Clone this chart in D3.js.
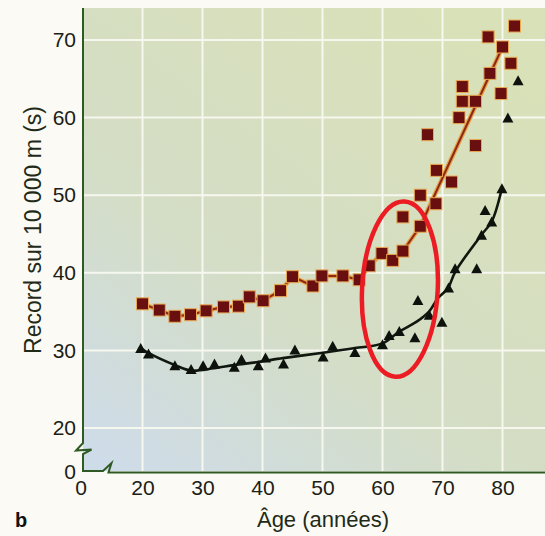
<!DOCTYPE html>
<html>
<head>
<meta charset="utf-8">
<script src="https://cdn.jsdelivr.net/npm/d3@7/dist/d3.min.js"></script>
<style>
  body { margin: 0; background: #fbfaf4; }
  svg { display: block; font-family: "Liberation Sans", Arial, Helvetica, sans-serif; }
</style>
</head>
<body>
<svg id="chart" width="545" height="536"></svg>
<script>
// Record sur 10 000 m, squares (upper series)
const squareAges = [20.0, 22.8, 25.4, 28.0, 30.6, 33.5, 36.0, 37.8, 40.1, 43.0, 45.0, 48.4, 49.9,
  53.4, 56.1, 57.8, 59.9, 61.7, 63.4, 63.4, 66.3, 66.3, 67.5, 68.9, 69.0, 71.5, 72.75, 73.3, 73.3,
  75.5, 75.5, 77.9, 77.6, 79.75, 80.0, 81.4, 82.0];
const squareValues = [36.0, 35.2, 34.4, 34.6, 35.1, 35.6, 35.7, 36.9, 36.4, 37.7, 39.5, 38.3, 39.6,
  39.6, 39.1, 40.9, 42.5, 41.6, 42.8, 47.2, 46.0, 50.0, 57.8, 48.9, 53.2, 51.7, 60.0, 62.1, 64.0,
  62.1, 56.4, 65.7, 70.4, 63.1, 69.1, 67.0, 71.8];

// triangles (lower series)
const triangleAges = [19.7, 21.0, 25.4, 28.1, 30.1, 32.0, 35.3, 36.5, 39.3, 40.5, 43.5, 45.4, 50.1,
  51.7, 55.4, 60.0, 61.1, 62.8, 65.4, 65.9, 67.8, 69.9, 71.0, 72.1, 75.7, 76.5, 78.2, 77.1, 79.9,
  80.9, 82.6];
const triangleValues = [30.3, 29.6, 28.1, 27.6, 28.1, 28.3, 27.9, 28.9, 28.1, 29.1, 28.3, 30.1, 29.2,
  30.6, 29.8, 30.8, 32.0, 32.5, 31.7, 36.5, 34.6, 33.7, 38.1, 40.6, 40.6, 44.9, 46.6, 48.1, 50.9,
  60.0, 64.8];

// fitted curves as drawn in the figure
const squareFitAges = [20.0, 22.8, 25.4, 28.0, 30.6, 33.5, 36.0, 37.8, 40.1, 43.0, 45.0, 48.4, 49.9,
  53.4, 56.1, 57.8, 59.9, 61.7, 63.4, 66.3, 80.0];
const squareFitValues = [36.0, 35.2, 34.4, 34.6, 35.1, 35.6, 35.7, 36.9, 36.4, 37.7, 39.5, 38.3, 39.6,
  39.6, 39.1, 40.9, 42.5, 41.6, 42.8, 46.0, 69.1];
const triangleFitAges = [19.7, 20.9, 25.4, 28.1, 31.9, 35.25, 39.25, 43.4, 50.1, 55.4, 60.0, 62.75,
  65.7, 67.75, 69.25, 70.9, 72.1, 76.5, 78.2, 79.9];
const triangleFitValues = [30.3, 29.7, 28.1, 27.4, 27.7, 28.1, 28.5, 29.0, 29.7, 30.3, 30.9, 32.4,
  33.7, 35.0, 36.75, 38.0, 40.1, 44.9, 46.6, 50.9];

const xTicks = [20, 30, 40, 50, 60, 70, 80];
const yTicks = [20, 30, 40, 50, 60, 70];

// red ellipse highlighting the 60-70 years zone (age, record, half-width in years, half-height in s)
const highlight = { age: 62.9, value: 37.9, rAge: 6.3, rValue: 11.3 };

function drawChart() {
  const svg = d3.select("#chart");
  const width = +svg.attr("width");

  const plot = { left: 83, top: 8, bottom: 471 };

  const x = d3.scaleLinear().domain([20, 90]).range([142.5, 562.5]);
  const y = d3.scaleLinear().domain([20, 70]).range([428, 40]);

  // background
  const defs = svg.append("defs");
  const grad = defs.append("linearGradient")
    .attr("id", "bg")
    .attr("x1", 0.8).attr("y1", 0)
    .attr("x2", 0.05).attr("y2", 1);
  grad.append("stop").attr("offset", 0).attr("stop-color", "#d9e1b8");
  grad.append("stop").attr("offset", 0.6).attr("stop-color", "#d4ddc6");
  grad.append("stop").attr("offset", 1).attr("stop-color", "#cedcea");

  svg.append("rect")
    .attr("x", plot.left)
    .attr("y", plot.top)
    .attr("width", width - plot.left)
    .attr("height", plot.bottom - plot.top)
    .attr("fill", "url(#bg)");

  // grid
  const grid = svg.append("g").attr("stroke", "#f6f8f0").attr("stroke-width", 2);
  grid.selectAll(".vgrid")
    .data(xTicks)
    .enter().append("line")
    .attr("x1", d => x(d)).attr("x2", d => x(d))
    .attr("y1", plot.top).attr("y2", plot.bottom);
  grid.selectAll(".hgrid")
    .data(yTicks)
    .enter().append("line")
    .attr("x1", plot.left).attr("x2", width)
    .attr("y1", d => y(d)).attr("y2", d => y(d));

  // axis lines with breaks
  const axisColor = "#2f5a24";
  svg.append("path")
    .attr("d", d3.line()([[plot.left, plot.top], [plot.left, 443], [76, 450.5], [91.5, 449.5],
      [plot.left, 454], [plot.left, plot.bottom], [103, plot.bottom], [111.5, 463], [108.5, 472.5],
      [width, 472.5]]))
    .attr("fill", "none")
    .attr("stroke", axisColor)
    .attr("stroke-width", 2)
    .attr("stroke-linejoin", "miter");

  // tick labels
  const xAxis = svg.append("g")
    .attr("transform", `translate(0, ${plot.bottom})`)
    .call(d3.axisBottom(x).tickValues(xTicks).tickSize(0).tickPadding(9).tickFormat(d3.format("d")));
  const yAxis = svg.append("g")
    .attr("transform", `translate(${plot.left}, 0)`)
    .call(d3.axisLeft(y).tickValues(yTicks).tickSize(0).tickPadding(7).tickFormat(d3.format("d")));

  [xAxis, yAxis].forEach(a => {
    a.select(".domain").remove();
    a.selectAll("text")
      .attr("font-family", "'Liberation Sans', Arial, sans-serif")
      .attr("font-size", 21)
      .attr("fill", "#1b2016");
  });

  // the two "0" at the axis break
  svg.append("text")
    .attr("x", 76).attr("y", 472).attr("dy", "0.32em")
    .attr("text-anchor", "end")
    .attr("font-size", 21).attr("fill", "#1b2016")
    .text("0");
  svg.append("text")
    .attr("x", 81).attr("y", plot.bottom + 9).attr("dy", "0.71em")
    .attr("text-anchor", "middle")
    .attr("font-size", 21).attr("fill", "#1b2016")
    .text("0");

  // fitted lines
  const line = d3.line().x(d => x(d[0])).y(d => y(d[1]));

  const squareFit = d3.zip(squareFitAges, squareFitValues);
  svg.append("path")
    .attr("d", line(squareFit))
    .attr("fill", "none")
    .attr("stroke", "#e8a24c")
    .attr("stroke-width", 4.5)
    .attr("stroke-linejoin", "round");
  svg.append("path")
    .attr("d", line(squareFit))
    .attr("fill", "none")
    .attr("stroke", "#8c2a14")
    .attr("stroke-width", 2)
    .attr("stroke-linejoin", "round");

  const triangleFit = d3.zip(triangleFitAges, triangleFitValues);
  svg.append("path")
    .attr("d", line.curve(d3.curveCatmullRom.alpha(0.5))(triangleFit))
    .attr("fill", "none")
    .attr("stroke", "#10170e")
    .attr("stroke-width", 2.6);

  // markers
  const sq = 12;
  svg.append("g")
    .selectAll("rect")
    .data(d3.zip(squareAges, squareValues))
    .enter().append("rect")
    .attr("x", d => x(d[0]) - sq / 2)
    .attr("y", d => y(d[1]) - sq / 2)
    .attr("width", sq)
    .attr("height", sq)
    .attr("fill", "#6a0f0f")
    .attr("stroke", "#e9a953")
    .attr("stroke-width", 1);

  const tw = 11, th = 10;
  svg.append("g")
    .selectAll("path")
    .data(d3.zip(triangleAges, triangleValues))
    .enter().append("path")
    .attr("d", `M0,${-th / 2}L${tw / 2},${th / 2}L${-tw / 2},${th / 2}Z`)
    .attr("transform", d => `translate(${x(d[0])}, ${y(d[1])})`)
    .attr("fill", "#0d130c");

  // red ellipse
  svg.append("ellipse")
    .attr("cx", x(highlight.age))
    .attr("cy", y(highlight.value))
    .attr("rx", x(highlight.age + highlight.rAge) - x(highlight.age))
    .attr("ry", y(highlight.value) - y(highlight.value + highlight.rValue))
    .attr("transform", `rotate(3, ${x(highlight.age)}, ${y(highlight.value)})`)
    .attr("fill", "none")
    .attr("stroke", "#ec1c24")
    .attr("stroke-width", 4.5);

  // titles
  svg.append("text")
    .attr("transform", "translate(33, 230) rotate(-90)")
    .attr("text-anchor", "middle")
    .attr("dy", "0.35em")
    .attr("font-size", 23)
    .attr("fill", "#1f2a18")
    .text("Record sur 10 000 m (s)");

  svg.append("text")
    .attr("x", 323)
    .attr("y", 527)
    .attr("text-anchor", "middle")
    .attr("font-size", 22)
    .attr("fill", "#1f2a18")
    .text("Âge (années)");

  svg.append("text")
    .attr("x", 15)
    .attr("y", 527)
    .attr("font-size", 20)
    .attr("font-weight", "bold")
    .attr("fill", "#111")
    .text("b");
}

drawChart();
</script>
</body>
</html>
